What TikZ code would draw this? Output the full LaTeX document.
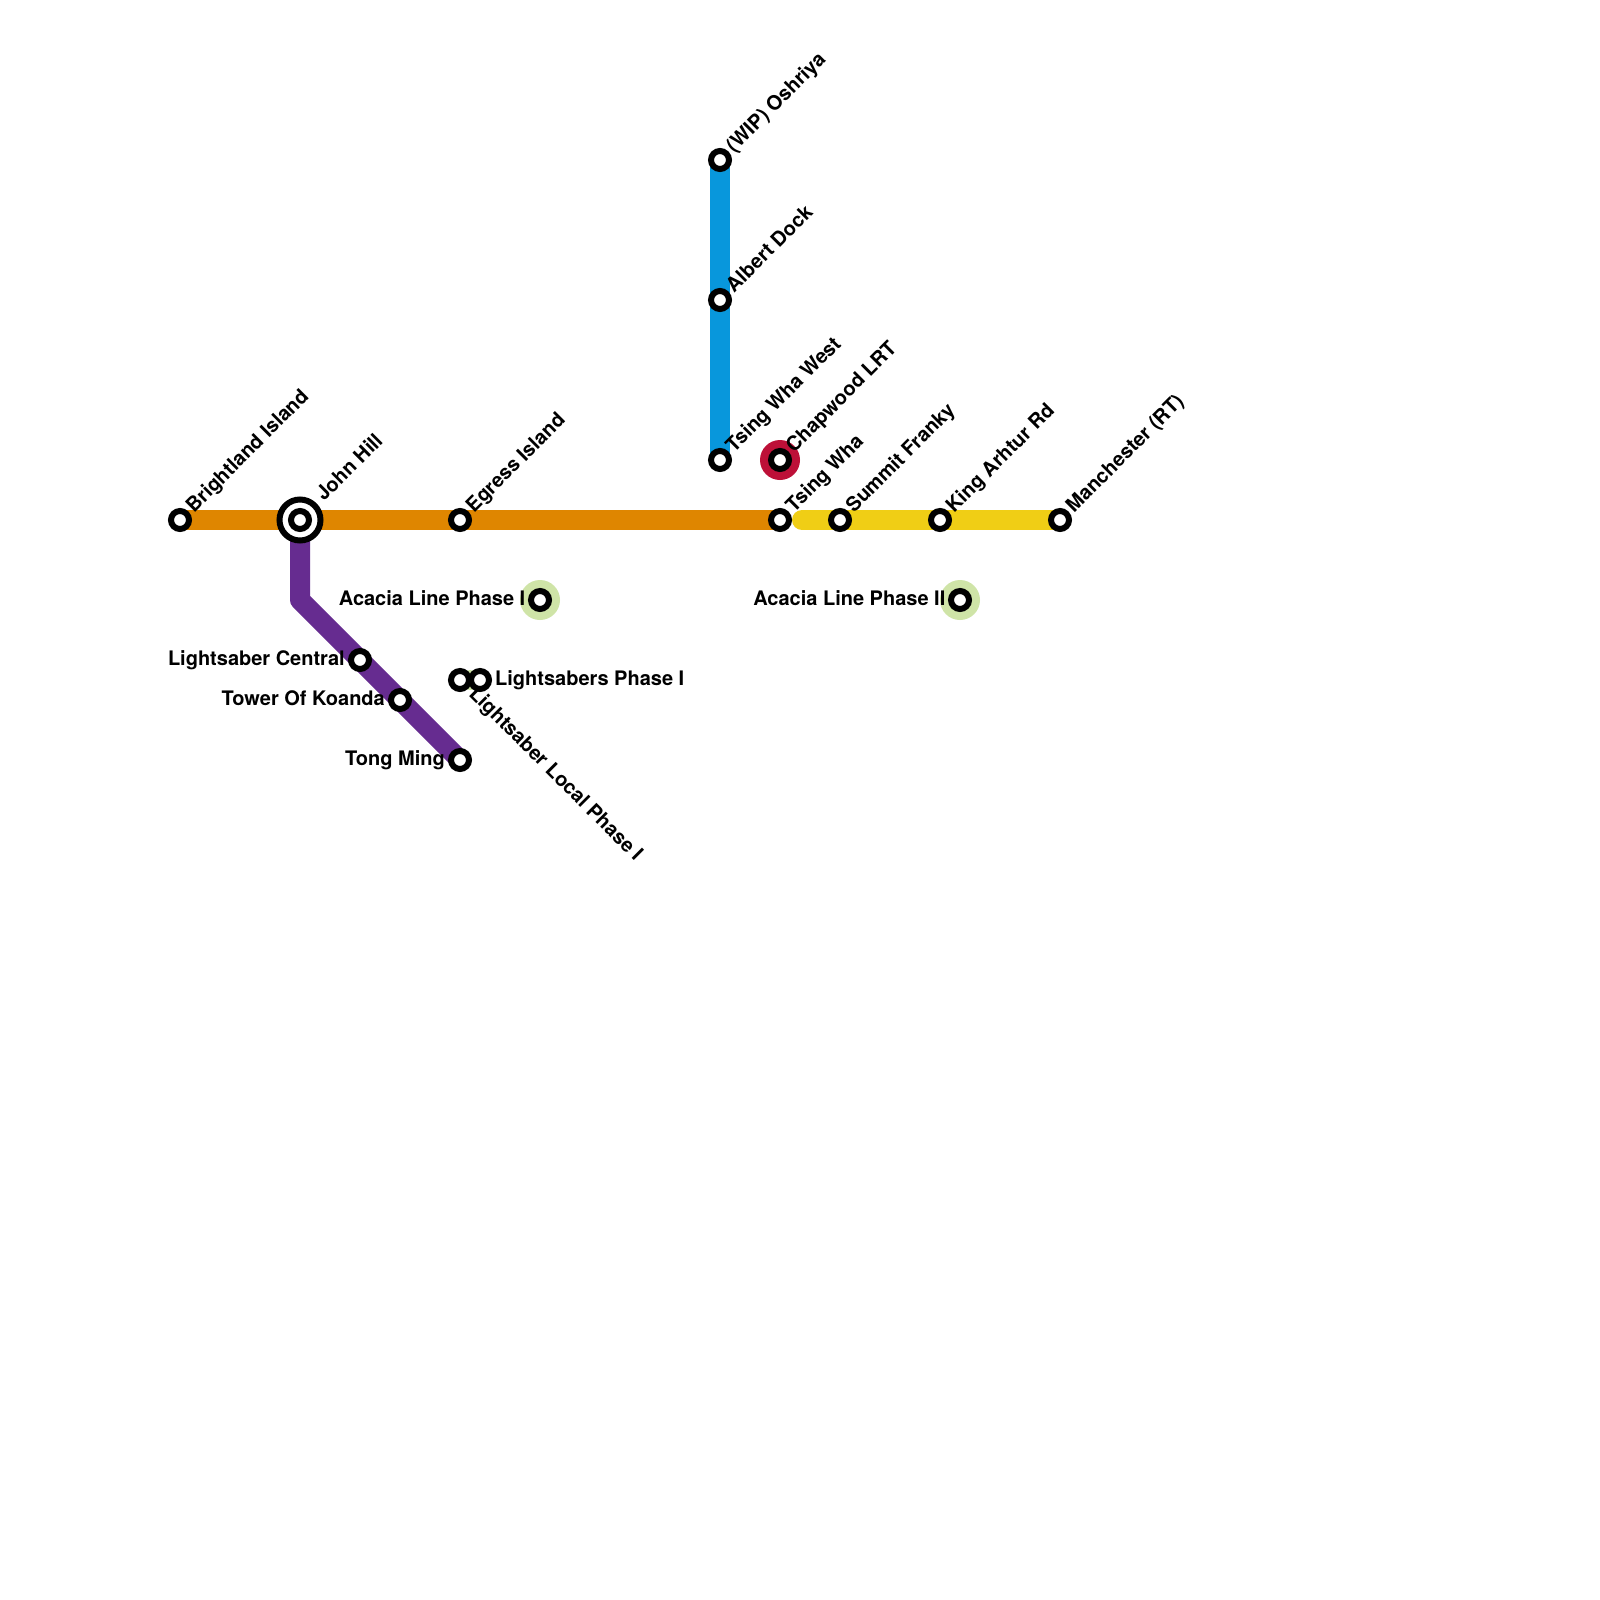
\documentclass[tikz,border=0pt]{standalone}
\usepackage{fontspec}
\setmainfont{TeX Gyre Heros}[Ligatures=TeX]
\tikzset{x=1pt,y=-1pt,
 metro/.style={line width=20pt,line join=round},
 stn/.style={circle,draw=black,fill=white,line width=6pt,minimum size=18pt,inner sep=0pt},
 halo/.style={circle,fill=#1,minimum size=40pt,inner sep=0pt},
 lab/.style={font=\bfseries\fontsize{20}{24}\selectfont,inner sep=0pt,text=black},
 ur/.style={lab,rotate=45,anchor=base west},
 dr/.style={lab,rotate=-45,anchor=base west},
 lf/.style={lab,anchor=base east},
 rt/.style={lab,anchor=base west}}
\definecolor{orange}{HTML}{DF8600}
\definecolor{yel}{HTML}{F0CE15}
\definecolor{blu}{HTML}{0897DC}
\definecolor{pur}{HTML}{662C90}
\definecolor{red}{HTML}{BD1038}
\definecolor{grn}{HTML}{CFE4A7}
\begin{document}
\begin{tikzpicture}
\useasboundingbox (0,0) rectangle (1600,1600);
\fill[white] (0,0) rectangle (1600,1600);
% halos
\node[halo=grn] (hA) at (540,600) {};
\node[halo=grn] (hB) at (960,600) {};
\node[halo=red] (hC) at (780,460) {};
\node[circle,fill=grn,minimum size=20pt,inner sep=0pt] (hD) at (470,680) {};
% coordinates
\coordinate (bend) at (300,600);
\coordinate (ys) at (802,520);
\coordinate (brightland) at (180,520);
\coordinate (john) at (300,520);
\coordinate (egress) at (460,520);
\coordinate (tsingwha) at (780,520);
\coordinate (summit) at (840,520);
\coordinate (king) at (940,520);
\coordinate (manch) at (1060,520);
\coordinate (osh) at (720,160);
\coordinate (albert) at (720,300);
\coordinate (west) at (720,460);
\coordinate (central) at (360,660);
\coordinate (koanda) at (400,700);
\coordinate (tong) at (460,760);
% lines
\draw[metro,draw=pur] (john) -- (bend) -- (tong);
\draw[metro,draw=orange] (brightland) -- (john) -- (egress) -- (tsingwha);
\draw[metro,draw=blu] (osh) -- (albert) -- (west);
\draw[metro,draw=yel,line cap=round] (ys) -- (summit) -- (king) -- (manch);
% interchange
\node[circle,draw=black,fill=white,line width=6pt,minimum size=41pt,inner sep=0pt] (johnring) at (john) {};
% stations
\foreach \n/\p in {s1/brightland,s2/john,s3/egress,s4/tsingwha,s5/summit,s6/king,s7/manch,s8/osh,s9/albert,s10/west,s11/central,s12/koanda,s13/tong}{
 \node[stn] (\n) at (\p) {};
}
\node[stn] (s14) at (hA) {};
\node[stn] (s15) at (hB) {};
\node[stn] (s16) at (hC) {};
\node[stn] (s17) at (460,680) {};
\node[stn] (s18) at (480,680) {};
% labels
\node[ur] at (194,513.5) {Brightland Island};
\node[ur] at (324,502) {John Hill};
\node[ur] at (474,513.5) {Egress Island};
\node[ur] at (794,513.5) {Tsing Wha};
\node[ur] at (854,513.5) {Summit Franky};
\node[ur] at (954,513.5) {King Arhtur Rd};
\node[ur] at (1074,513.5) {Manchester (RT)};
\node[ur] at (734,153.5) {(WIP) Oshriya};
\node[ur] at (734,293.5) {Albert Dock};
\node[ur] at (734,453.5) {Tsing Wha West};
\node[ur] at (794,453.5) {Chapwood LRT};
\node[dr] at (468,695) {Lightsaber Local Phase I};
\node[lf] at (345,665) {Lightsaber Central};
\node[lf] at (385,705) {Tower Of Koanda};
\node[lf] at (445,765) {Tong Ming};
\node[lf] at (525.5,605) {Acacia Line Phase I};
\node[lf] at (945.5,605) {Acacia Line Phase II};
\node[rt] at (495,685) {Lightsabers Phase I};
\end{tikzpicture}
\end{document}
